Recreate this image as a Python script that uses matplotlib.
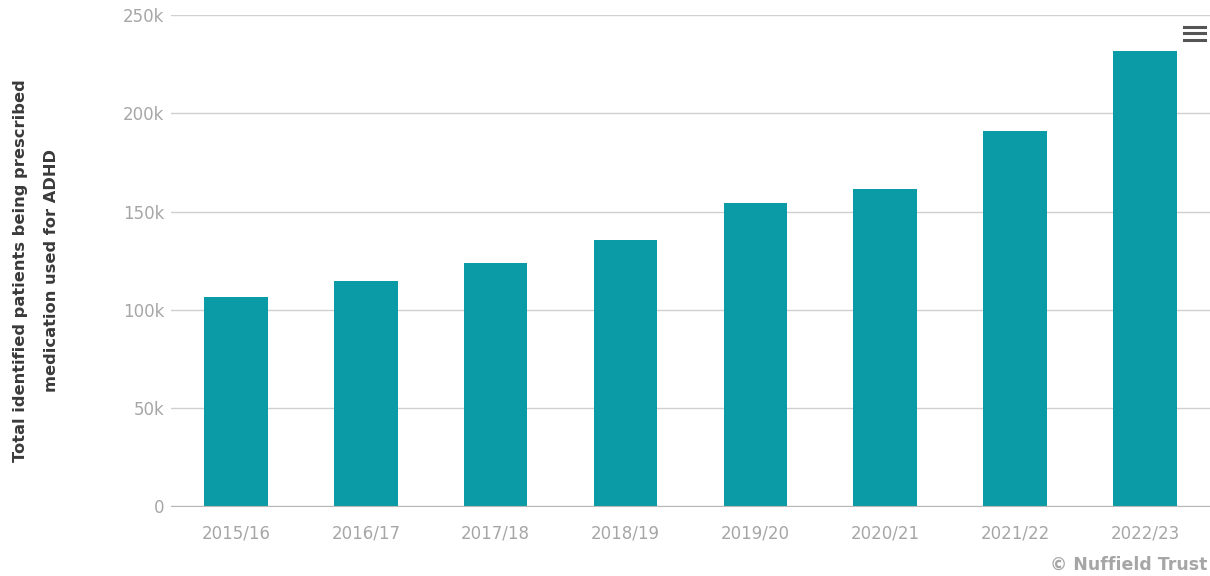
import matplotlib as mpl
mpl.use('Agg')

import matplotlib.pyplot as plt
import numpy as np

plt.rcParams['font.family'] = ['DejaVu Sans']

years = ["2015/16", "2016/17", "2017/18", "2018/19",
         "2019/20", "2020/21", "2021/22", "2022/23"]
patients = [106400, 114700, 123900, 135500, 154200, 161300, 191100, 231700]
yticks = [0, 50000, 100000, 150000, 200000, 250000]
ytick_labels = ["0", "50k", "100k", "150k", "200k", "250k"]

fig = plt.figure(figsize=(12.10, 5.76), dpi=100)
ax = fig.add_axes([0.1413, 0.1207, 0.8587, 0.8533])

pos = np.arange(len(years))
ax.bar(pos, patients, width=0.49, color='#0a9ba6', zorder=3)

ax.set_xlim(-0.5, len(years) - 0.5)
ax.set_ylim(0, 250000)
ax.set_yticks(yticks)
ax.set_yticklabels(ytick_labels)
ax.set_xticks(pos)
ax.set_xticklabels(years)

ax.grid(axis='y', color='#d0d0d0', linewidth=1, zorder=0)
for s in ['top', 'right', 'left']:
    ax.spines[s].set_visible(False)
ax.spines['bottom'].set_color('#b8b8b8')
ax.spines['bottom'].set_zorder(4)
ax.tick_params(axis='both', length=0, labelsize=12, labelcolor='#a6a6a6')
ax.tick_params(axis='y', pad=5)
ax.tick_params(axis='x', pad=13)

# axis title
fig.text(0.0295, 0.531, "Total identified patients being prescribed\nmedication used for ADHD",
         rotation=90, ha='center', va='center', fontsize=11.7, fontweight='bold',
         color='#3a3a3a', linespacing=2.35)

# menu icon
for yy in [0.953, 0.942, 0.931]:
    fig.add_artist(plt.Line2D([0.9785, 0.9955], [yy, yy], color='#555555', linewidth=2.2))

fig.text(0.998, 0.003, "\u00a9 Nuffield Trust", ha='right', va='bottom',
         fontsize=12.5, fontweight='bold', color='#a6a6a6')

plt.savefig("out.png", format="png", dpi=100)
